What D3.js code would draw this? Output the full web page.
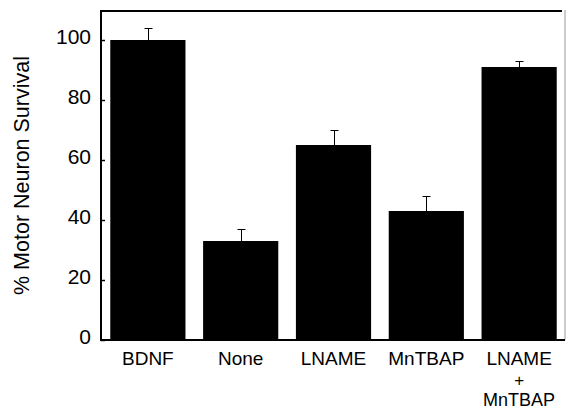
<!DOCTYPE html>
<html><head><meta charset="utf-8">
<script src="https://cdn.jsdelivr.net/npm/d3@7"></script>
<style>body{margin:0;background:#fff}svg{display:block}text{font-family:"Liberation Sans",Arial,sans-serif;fill:#000}</style>
</head><body>
<svg id="c" width="566" height="410"></svg>
<script>
const categories = ["BDNF", "None", "LNAME", "MnTBAP", "LNAME\n+\nMnTBAP"];
const values = [100, 33, 65, 43, 91];
const errors = [4, 4, 5, 5, 2];
const yTicks = [0, 20, 40, 60, 80, 100];

const svg = d3.select("#c");
const L = 101, R = 565, T = 10, B = 340;
const x = d3.scaleBand().domain(categories).range([L, R + 1]).paddingInner(0.19).paddingOuter(0.1);
const y = d3.scaleLinear().domain([0, 110]).range([B, T]);

// frame
svg.append("line").attr("x1", L).attr("x2", R - 3).attr("y1", T + 1).attr("y2", T + 1).attr("stroke", "#000").attr("stroke-width", 2);
svg.append("line").attr("x1", R).attr("x2", R).attr("y1", T).attr("y2", B).attr("stroke", "#999").attr("stroke-width", 1);

// bars
svg.selectAll("rect.bar").data(values).join("rect")
  .attr("x", (d, i) => x(categories[i]))
  .attr("width", x.bandwidth())
  .attr("y", d => y(d))
  .attr("height", d => B - y(d))
  .attr("fill", "#000");

// error bars
const eg = svg.append("g").attr("stroke", "#000").attr("stroke-width", 1);
values.forEach((v, i) => {
  const cx = Math.round(x(categories[i]) + x.bandwidth() / 2) + 0.5;
  eg.append("line").attr("x1", cx).attr("x2", cx).attr("y1", y(v)).attr("y2", y(v + errors[i]));
  eg.append("line").attr("x1", cx - 4).attr("x2", cx + 4).attr("y1", y(v + errors[i]) + 0.5).attr("y2", y(v + errors[i]) + 0.5);
});

// y axis
const ya = svg.append("g").attr("transform", `translate(${L},0)`)
  .call(d3.axisLeft(y).tickValues(yTicks).tickSizeInner(-4).tickSizeOuter(0).tickPadding(10));
ya.select(".domain").attr("stroke-width", 2).attr("d", `M0,${T}V${B + 1}`);
ya.selectAll(".tick line").attr("stroke-width", 1.5);
ya.selectAll(".tick text").attr("font-size", 21).attr("dy", "0.18em")
  .attr("font-family", '"Liberation Sans",Arial,sans-serif');

// x axis
svg.append("line").attr("x1", L).attr("x2", R).attr("y1", B).attr("y2", B).attr("stroke", "#000").attr("stroke-width", 2);
const xl = svg.append("g").attr("font-size", 19);
const lineY = [365, 386, 406];
const lineSize = [19, 17, 18];
categories.forEach(c => {
  const cx = x(c) + x.bandwidth() / 2;
  c.split("\n").forEach((ln, j) => {
    xl.append("text").attr("text-anchor", "middle")
      .attr("x", cx).attr("y", lineY[j]).attr("font-size", lineSize[j]).text(ln);
  });
});

// y title
svg.append("text").attr("transform", "translate(29,175.5) rotate(-90)")
  .attr("text-anchor", "middle").attr("font-size", 21.5).text("% Motor Neuron Survival");
</script>
</body></html>
